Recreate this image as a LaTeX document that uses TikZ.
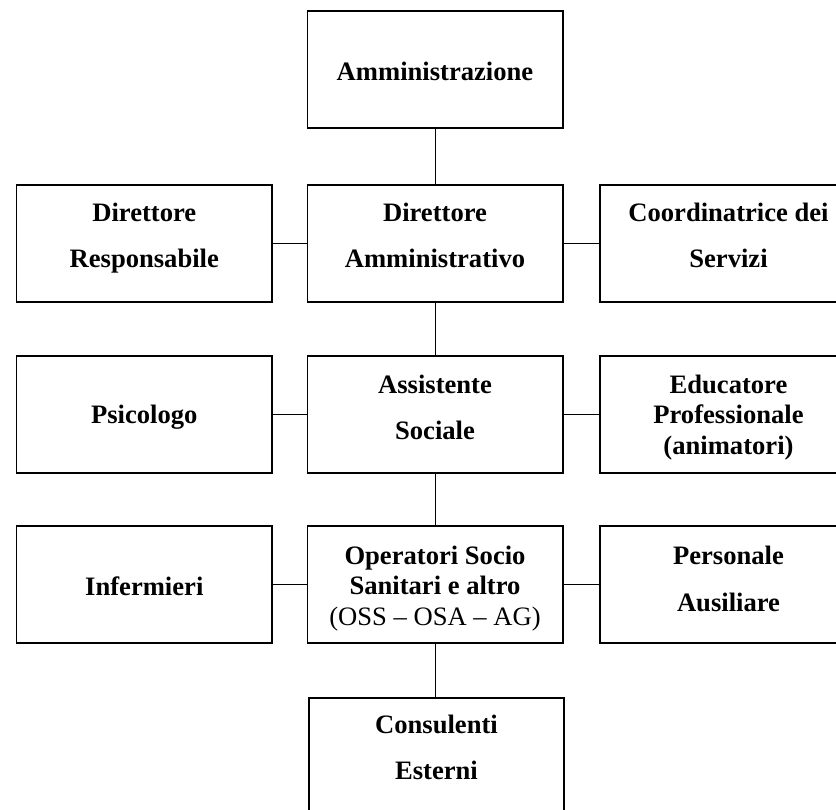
\documentclass[tikz,border=0pt]{standalone}
\usepackage{fontspec}
\setmainfont{Liberation Serif}
\begin{document}
\begin{tikzpicture}[x=1pt,y=-1pt,
  box/.style={draw, line width=1.6pt, inner sep=0pt, minimum width=255.4pt, minimum height=117pt},
  lbl/.style={inner sep=0pt, anchor=north, align=center, font=\fontsize{26.6pt}{46.5pt}\selectfont\bfseries},
  lbls/.style={inner sep=0pt, anchor=north, align=center, font=\fontsize{26.6pt}{30.5pt}\selectfont\bfseries},
  link/.style={line width=1pt}]
\useasboundingbox (0,0) rectangle (836,810);
% boxes
\node[box] (adm) at (435,69.7) {};
\node[box] (dres) at (144.3,243.5) {};
\node[box] (dam) at (435,243.5) {};
\node[box, minimum width=257pt] (coord) at (728.5,243.5) {};
\node[box] (psi) at (144.3,414.5) {};
\node[box] (ass) at (435,414.5) {};
\node[box, minimum width=257pt] (edu) at (728.5,414.5) {};
\node[box] (inf) at (144.3,584.5) {};
\node[box] (oss) at (435,584.5) {};
\node[box, minimum width=257pt] (pers) at (728.5,584.5) {};
\node[box] (cons) at (436.5,756.5) {};
% labels
\node[lbl] (tadm) at (435,61.5) {Amministrazione};
\node[lbl] (tdres) at (144.3,202.5) {Direttore\\Responsabile};
\node[lbl] (tdam) at (435,202.5) {Direttore\\Amministrativo};
\node[lbl] (tcoord) at (728.5,202.5) {Coordinatrice dei\\Servizi};
\node[lbl] (tpsi) at (144.3,404.5) {Psicologo};
\node[lbl] (tass) at (435,374.5) {Assistente\\Sociale};
\node[lbls] (tedu) at (728.5,374.5) {Educatore\\Professionale\\(animatori)};
\node[lbl] (tinf) at (144.3,576.5) {Infermieri};
\node[lbls] (toss) at (435,545.5) {Operatori Socio\\Sanitari e altro\\{\mdseries(OSS – OSA – AG)}};
\node[lbl] (tpers) at (728.5,546.2) {Personale\\\rule{0pt}{0pt}Ausiliare};
\node[lbl] (tcons) at (436.5,714.5) {Consulenti\\Esterni};
% connectors
\draw[link] (adm) -- (dam);
\draw[link] (dam) -- (ass);
\draw[link] (ass) -- (oss);
\draw[link] (oss) -- (oss |- cons.north);
\draw[link] (dres) -- (dam);
\draw[link] (dam) -- (coord);
\draw[link] (psi) -- (ass);
\draw[link] (ass) -- (edu);
\draw[link] (inf) -- (oss);
\draw[link] (oss) -- (pers);
\end{tikzpicture}
\end{document}
